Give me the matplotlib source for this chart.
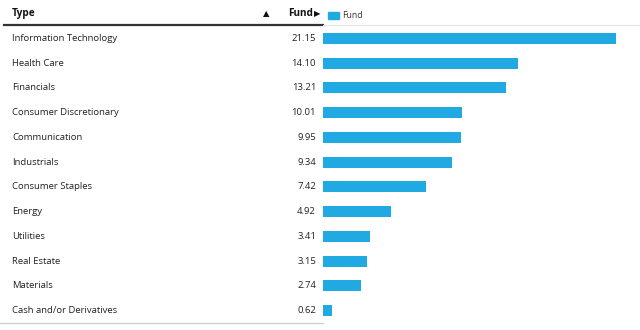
import matplotlib
matplotlib.use('Agg')
import matplotlib.pyplot as plt
from matplotlib.transforms import blended_transform_factory
from matplotlib.lines import Line2D
from matplotlib.patches import Rectangle

sectors = ['Information Technology', 'Health Care', 'Financials', 'Consumer Discretionary',
           'Communication', 'Industrials', 'Consumer Staples', 'Energy', 'Utilities',
           'Real Estate', 'Materials', 'Cash and/or Derivatives']
fund = [21.15, 14.10, 13.21, 10.01, 9.95, 9.34, 7.42, 4.92, 3.41, 3.15, 2.74, 0.62]

W, H = 640, 330
BLUE = '#20aae1'
TEXT = '#222222'
plt.rcParams['font.family'] = ['Open Sans', 'DejaVu Sans']

fig = plt.figure(figsize=(W / 100, H / 100), dpi=100)

# bar area: x from 323px to right edge, rows from 26px down to 323px
top, bottom = 26, 323
ax = fig.add_axes([323 / W, 1 - bottom / H, (W - 323) / W, (bottom - top) / H])
n = len(sectors)
ax.barh(range(n), fund, height=0.45, color=BLUE)
ax.set_xlim(0, 21.15 * (W - 323) / 293)
ax.set_ylim(n - 0.5, -0.5)
ax.axis('off')

# row labels / values in figure x, data y
tr = blended_transform_factory(fig.transFigure, ax.transData)
for i, (s, v) in enumerate(zip(sectors, fund)):
    ax.text(12 / W, i, s, transform=tr, ha='left', va='center', fontsize=6.8, color=TEXT)
    ax.text(316 / W, i, f'{v:.2f}', transform=tr, ha='right', va='center', fontsize=6.8, color=TEXT)

# header
hy = 1 - 13.5 / H
fig.text(12 / W, hy, 'Type', ha='left', va='center', fontsize=7.2, fontweight='bold', color='#111111')
fig.text(266 / W, hy, '▲', ha='center', va='center', fontsize=6, color='#111111',
         family=['DejaVu Sans'])
fig.text(313 / W, hy, 'Fund', ha='right', va='center', fontsize=7.2, fontweight='bold', color='#111111')
fig.text(314 / W, hy, '▶', ha='left', va='center', fontsize=6, color='#111111',
         family=['DejaVu Sans'])

# legend
fig.patches.append(Rectangle((328 / W, 1 - 19 / H), 11 / W, 7 / H, transform=fig.transFigure,
                             color=BLUE))
fig.text(342 / W, 1 - 15.5 / H, 'Fund', ha='left', va='center', fontsize=6.3, color='#333333')

# rules
fig.add_artist(Line2D([4 / W, 323 / W], [1 - 25 / H, 1 - 25 / H], color='#333333', linewidth=1.6))
fig.add_artist(Line2D([323 / W, 1], [1 - 25 / H, 1 - 25 / H], color='#e6e6e6', linewidth=0.8))
fig.add_artist(Line2D([0, 323 / W], [1 - 323 / H, 1 - 323 / H], color='#cccccc', linewidth=0.9))

fig.savefig('out.png', dpi=100)
plt.close()
